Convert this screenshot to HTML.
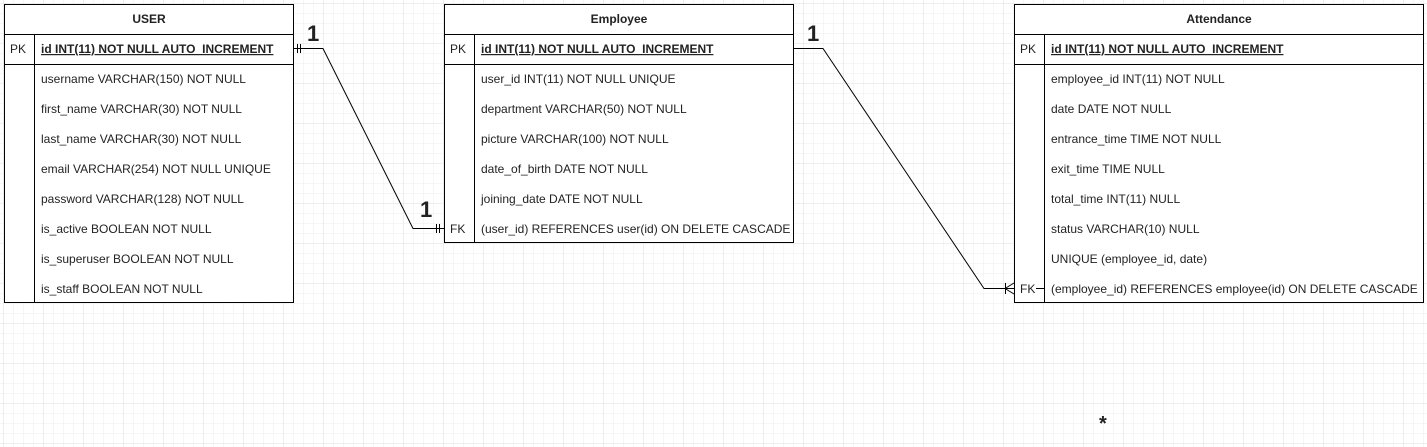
<!DOCTYPE html>
<html><head><meta charset="utf-8"><style>
html,body{margin:0;padding:0;background:#fff}
svg{display:block}
text{font-family:"Liberation Sans",Arial,sans-serif;font-size:12px;fill:#222}
.b{font-weight:bold}
</style></head><body>
<svg width="1427" height="447" xmlns="http://www.w3.org/2000/svg">
<defs>
<pattern id="g" width="10" height="10" patternUnits="userSpaceOnUse" x="3" y="3"><path d="M10 0H0V10" fill="none" stroke="#ededed" stroke-width="1"/></pattern>
<pattern id="G" width="40" height="40" patternUnits="userSpaceOnUse" x="3" y="3"><path d="M40 0H0V40" fill="none" stroke="#dedede" stroke-width="1"/></pattern>
</defs>
<rect width="1427" height="447" fill="url(#g)"/>
<rect width="1427" height="447" fill="url(#G)"/>

<!-- USER -->
<g stroke="#000" fill="#fff">
<rect x="4.5" y="4.5" width="289" height="298"/>
<rect x="444.5" y="4.5" width="349" height="238"/>
<rect x="1014.5" y="4.5" width="409" height="298"/>
</g>
<g stroke="#000">
<line x1="4" y1="34.5" x2="294" y2="34.5"/><line x1="4" y1="64.5" x2="294" y2="64.5"/><line x1="34.5" y1="34" x2="34.5" y2="303"/>
<line x1="444" y1="34.5" x2="794" y2="34.5"/><line x1="444" y1="64.5" x2="794" y2="64.5"/><line x1="474.5" y1="34" x2="474.5" y2="243"/>
<line x1="1014" y1="34.5" x2="1424" y2="34.5"/><line x1="1014" y1="64.5" x2="1424" y2="64.5"/><line x1="1044.5" y1="34" x2="1044.5" y2="303"/>
</g>
<text x="149" y="23" class="b" text-anchor="middle">USER</text>
<text x="10" y="53">PK</text>
<text x="41" y="53" class="b" text-decoration="underline">id INT(11) NOT NULL AUTO_INCREMENT</text>
<text x="41" y="83">username VARCHAR(150) NOT NULL</text>
<text x="41" y="113">first_name VARCHAR(30) NOT NULL</text>
<text x="41" y="143">last_name VARCHAR(30) NOT NULL</text>
<text x="41" y="173">email VARCHAR(254) NOT NULL UNIQUE</text>
<text x="41" y="203">password VARCHAR(128) NOT NULL</text>
<text x="41" y="233">is_active BOOLEAN NOT NULL</text>
<text x="41" y="263">is_superuser BOOLEAN NOT NULL</text>
<text x="41" y="293">is_staff BOOLEAN NOT NULL</text>

<text x="619" y="23" class="b" text-anchor="middle">Employee</text>
<text x="450" y="53">PK</text>
<text x="481" y="53" class="b" text-decoration="underline">id INT(11) NOT NULL AUTO_INCREMENT</text>
<text x="481" y="83">user_id INT(11) NOT NULL UNIQUE</text>
<text x="481" y="113">department VARCHAR(50) NOT NULL</text>
<text x="481" y="143">picture VARCHAR(100) NOT NULL</text>
<text x="481" y="173">date_of_birth DATE NOT NULL</text>
<text x="481" y="203">joining_date DATE NOT NULL</text>
<text x="450" y="233">FK</text>
<text x="481" y="233">(user_id) REFERENCES user(id) ON DELETE CASCADE</text>

<text x="1219" y="23" class="b" text-anchor="middle">Attendance</text>
<text x="1020" y="53">PK</text>
<text x="1051" y="53" class="b" text-decoration="underline">id INT(11) NOT NULL AUTO_INCREMENT</text>
<text x="1051" y="83">employee_id INT(11) NOT NULL</text>
<text x="1051" y="113">date DATE NOT NULL</text>
<text x="1051" y="143">entrance_time TIME NOT NULL</text>
<text x="1051" y="173">exit_time TIME NULL</text>
<text x="1051" y="203">total_time INT(11) NULL</text>
<text x="1051" y="233">status VARCHAR(10) NULL</text>
<text x="1051" y="263">UNIQUE (employee_id, date)</text>
<text x="1020" y="293">FK</text>
<line x1="1036" y1="288.5" x2="1044" y2="288.5" stroke="#000"/>
<text x="1051" y="293">(employee_id) REFERENCES employee(id) ON DELETE CASCADE</text>

<!-- connectors -->
<g stroke="#000" fill="none">
<polyline points="294,48.5 323,48.5 413,228.5 444,228.5"/>
<line x1="297.5" y1="44" x2="297.5" y2="53"/><line x1="300.5" y1="44" x2="300.5" y2="53"/>
<line x1="436.5" y1="224" x2="436.5" y2="233"/><line x1="439.5" y1="224" x2="439.5" y2="233"/>
<polyline points="794,48.5 823,48.5 984,288.5 1014,288.5"/>
<line x1="1005.5" y1="283" x2="1005.5" y2="294"/>
<line x1="1005" y1="288.5" x2="1014" y2="283"/><line x1="1005" y1="288.5" x2="1014" y2="294"/>
</g>
<text x="307" y="41" style="font-size:22px;font-weight:bold">1</text>
<text x="420" y="217" style="font-size:22px;font-weight:bold">1</text>
<text x="807" y="41" style="font-size:22px;font-weight:bold">1</text>
<text x="1099" y="430" style="font-size:20px;font-weight:bold">*</text>
</svg>
</body></html>
